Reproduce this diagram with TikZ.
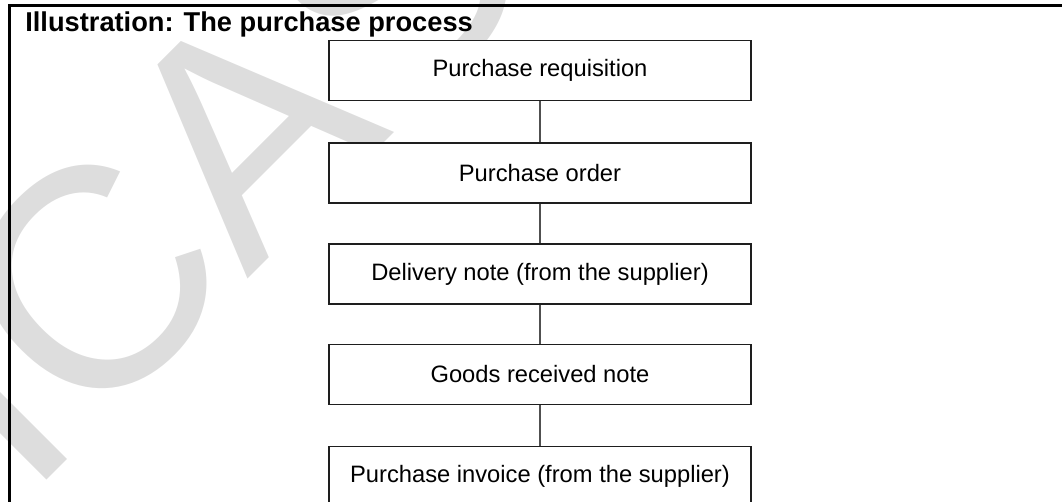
\documentclass[tikz,border=0pt]{standalone}
\usepackage{fontspec}
\setmainfont{Liberation Sans}
\usepackage{xcolor}
\definecolor{wmgray}{RGB}{221,221,221}
\definecolor{boxline}{RGB}{30,30,30}
\definecolor{linkgray}{RGB}{80,80,80}

\begin{document}
\begin{tikzpicture}[x=0.02cm, y=-0.02cm, font=\fontsize{13.5}{16}\selectfont]
\tikzset{docnode/.style={draw=boxline, fill=white, line width=0.7pt, minimum width=8.44cm, minimum height=1.2cm, inner sep=0pt, align=center} }
\tikzset{link/.style={draw=linkgray, line width=0.6pt}}
\clip (0,0) rectangle (1062,502);
% watermark
\node[text=wmgray, rotate=45, inner sep=0pt, font=\fontsize{178}{178}\selectfont] (wm) at (208,166) {ICAS};
% frame and title
\draw[line width=1.7pt] (9.5,520) -- (9.5,5.5) -- (1080,5.5);
\node[anchor=base west, inner sep=0pt, font=\fontsize{15.5}{18}\selectfont\bfseries] (title) at (25,32) {Illustration: The purchase process};
% steps
\node[docnode] (req) at (540,70.3)  {Purchase requisition};
\node[docnode] (ord) at (540,173)   {Purchase order};
\node[docnode] (dlv) at (540,274)   {Delivery note (from the supplier)};
\node[docnode] (grn) at (540,374.5) {Goods received note};
\node[docnode] (inv) at (540,476.7) {Purchase invoice (from the supplier)};
\path[link] (req) edge (ord);
\path[link] (ord) edge (dlv);
\path[link] (dlv) edge (grn);
\path[link] (grn) edge (inv);
\end{tikzpicture}
\end{document}
